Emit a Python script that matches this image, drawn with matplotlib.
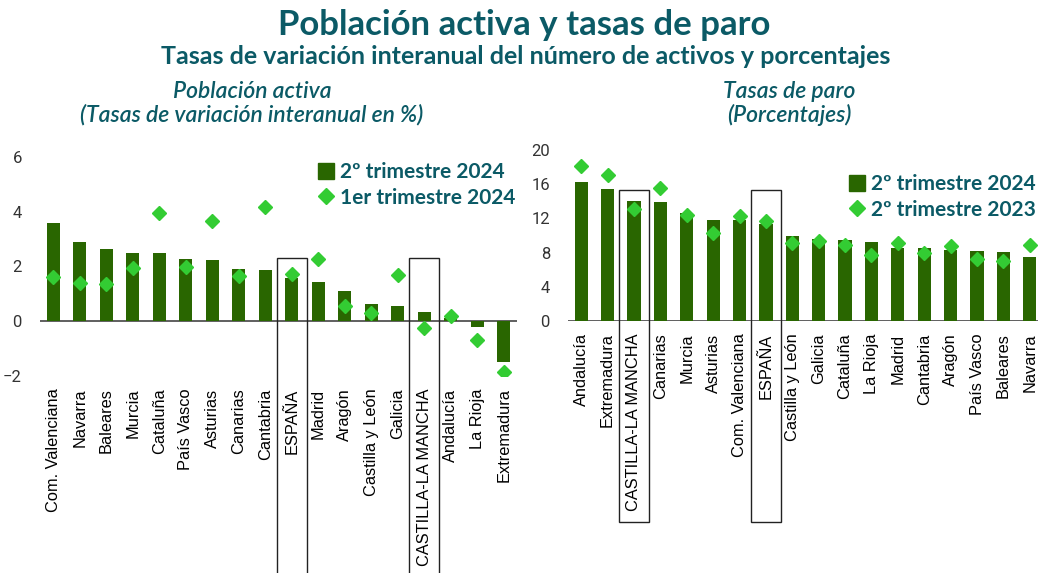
import matplotlib
matplotlib.use('Agg')
import matplotlib.pyplot as plt
import matplotlib.transforms as mtransforms
from matplotlib.patches import Rectangle
from matplotlib.lines import Line2D
import numpy as np

# Poblacion activa: tasas de variacion interanual (%)
cats_left = ['Com. Valenciana', 'Navarra', 'Baleares', 'Murcia', 'Cataluña', 'País Vasco',
             'Asturias', 'Canarias', 'Cantabria', 'ESPAÑA', 'Madrid', 'Aragón',
             'Castilla y León', 'Galicia', 'CASTILLA-LA MANCHA', 'Andalucía', 'La Rioja',
             'Extremadura']
act_2t24 = [3.58, 2.91, 2.63, 2.51, 2.50, 2.27, 2.24, 1.92, 1.87, 1.58, 1.43, 1.12,
            0.62, 0.56, 0.33, 0.11, -0.22, -1.48]
act_1t24 = [1.61, 1.39, 1.35, 1.93, 3.96, 1.99, 3.68, 1.64, 4.17, 1.71, 2.28, 0.55,
            0.29, 1.68, -0.23, 0.19, -0.67, -1.84]

# Tasas de paro (%)
cats_right = ['Andalucía', 'Extremadura', 'CASTILLA-LA MANCHA', 'Canarias', 'Murcia',
              'Asturias', 'Com. Valenciana', 'ESPAÑA', 'Castilla y León', 'Galicia',
              'Cataluña', 'La Rioja', 'Madrid', 'Cantabria', 'Aragón', 'País Vasco',
              'Baleares', 'Navarra']
paro_2t24 = [16.31, 15.46, 13.98, 13.90, 12.66, 11.84, 11.77, 11.30, 9.90, 9.59, 9.51,
             9.24, 8.58, 8.58, 8.35, 8.23, 8.04, 7.53]
paro_2t23 = [18.14, 17.13, 13.05, 15.61, 12.39, 10.29, 12.31, 11.65, 9.17, 9.40, 8.85,
             7.73, 9.09, 8.00, 8.78, 7.30, 7.07, 8.85]

bar_col = '#296600'
dia_col = '#33cc33'
teal = '#0b5a66'
W, H = 1038, 573

fig = plt.figure(figsize=(W / 100, H / 100), dpi=100)

def setup(ax, cats, ylim, yticks):
    x = np.arange(len(cats))
    ax.set_xlim(-0.5, len(cats) - 0.5)
    ax.set_ylim(*ylim)
    ax.set_yticks(yticks)
    ax.set_xticks(x)
    ax.set_xticklabels(cats, rotation=90, fontsize=11.8, family='Liberation Sans')
    for s in ax.spines.values():
        s.set_visible(False)
    ax.tick_params(axis='both', length=0)
    ax.tick_params(axis='y', pad=13, labelsize=12, labelcolor='#333333')
    ax.tick_params(axis='x', pad=9)
    for t in ax.get_yticklabels():
        t.set_family('Roboto')
    ax.axhline(0, color='#444444', lw=1.2, zorder=1)
    return x

def box(ax, idx, hw, y0, y1):
    tr = mtransforms.blended_transform_factory(ax.transData, fig.transFigure)
    r = Rectangle((idx - hw, y0), 2 * hw, y1 - y0, transform=tr, fill=False,
                  edgecolor='#222222', lw=1.0, clip_on=False, zorder=5)
    fig.add_artist(r)

# left panel
ax1 = fig.add_axes([40 / W, 1 - 376 / H, 477 / W, 219 / H])
x1 = setup(ax1, cats_left, (-2, 6), [-2, 0, 2, 4, 6])
ax1.bar(x1, act_2t24, width=0.5, color=bar_col, zorder=2)
ax1.plot(x1, act_1t24, 'D', color=dia_col, markersize=7.5, zorder=3, lw=0)
box(ax1, 9, 0.56, -0.01, 1 - 258 / H)
box(ax1, 14, 0.56, -0.01, 1 - 258 / H)

# right panel
ax2 = fig.add_axes([568 / W, 1 - 321 / H, 475 / W, 171 / H])
x2 = setup(ax2, cats_right, (0, 20), [0, 4, 8, 12, 16, 20])
ax2.bar(x2, paro_2t24, width=0.5, color=bar_col, zorder=2)
ax2.plot(x2, paro_2t23, 'D', color=dia_col, markersize=7.5, zorder=3, lw=0)
box(ax2, 2, 0.58, 1 - 522 / H, 1 - 190 / H)
box(ax2, 7, 0.58, 1 - 522 / H, 1 - 190 / H)

def legend(ax, lab1, lab2, anchor):
    h = [Line2D([], [], marker='s', color=bar_col, lw=0, markersize=11),
         Line2D([], [], marker='D', color=dia_col, lw=0, markersize=8)]
    leg = fig.legend(h, [lab1, lab2], loc='upper left', bbox_to_anchor=anchor,
                     frameon=False, handlelength=0.8, handletextpad=0.3,
                     labelspacing=0.25, borderpad=0,
                     prop={'family': 'Lato', 'weight': 'bold', 'size': 15})
    for t in leg.get_texts():
        t.set_color(teal)

legend(ax1, '2º trimestre 2024', '1er trimestre 2024', (307 / W, 1 - 152 / H))
legend(ax2, '2º trimestre 2024', '2º trimestre 2023', (838 / W, 1 - 164 / H))

fig.text(524 / W, 1 - 25 / H, 'Población activa y tasas de paro', ha='center', va='center',
         family='Lato', weight='bold', size=25, color=teal)
fig.text(526 / W, 1 - 57 / H, 'Tasas de variación interanual del número de activos y porcentajes',
         ha='center', va='center', family='Lato', weight='bold', size=18, color=teal)
fig.text(252 / W, 1 - 91 / H, 'Población activa', ha='center', va='center',
         family='Lato', style='italic', weight='semibold', size=16.5, color=teal)
fig.text(252 / W, 1 - 115 / H, '(Tasas de variación interanual en %)', ha='center', va='center',
         family='Lato', style='italic', weight='semibold', size=16.5, color=teal)
fig.text(789 / W, 1 - 91 / H, 'Tasas de paro', ha='center', va='center',
         family='Lato', style='italic', weight='semibold', size=16.5, color=teal)
fig.text(789 / W, 1 - 115 / H, '(Porcentajes)', ha='center', va='center',
         family='Lato', style='italic', weight='semibold', size=16.5, color=teal)

fig.savefig('out.png', dpi=100)
